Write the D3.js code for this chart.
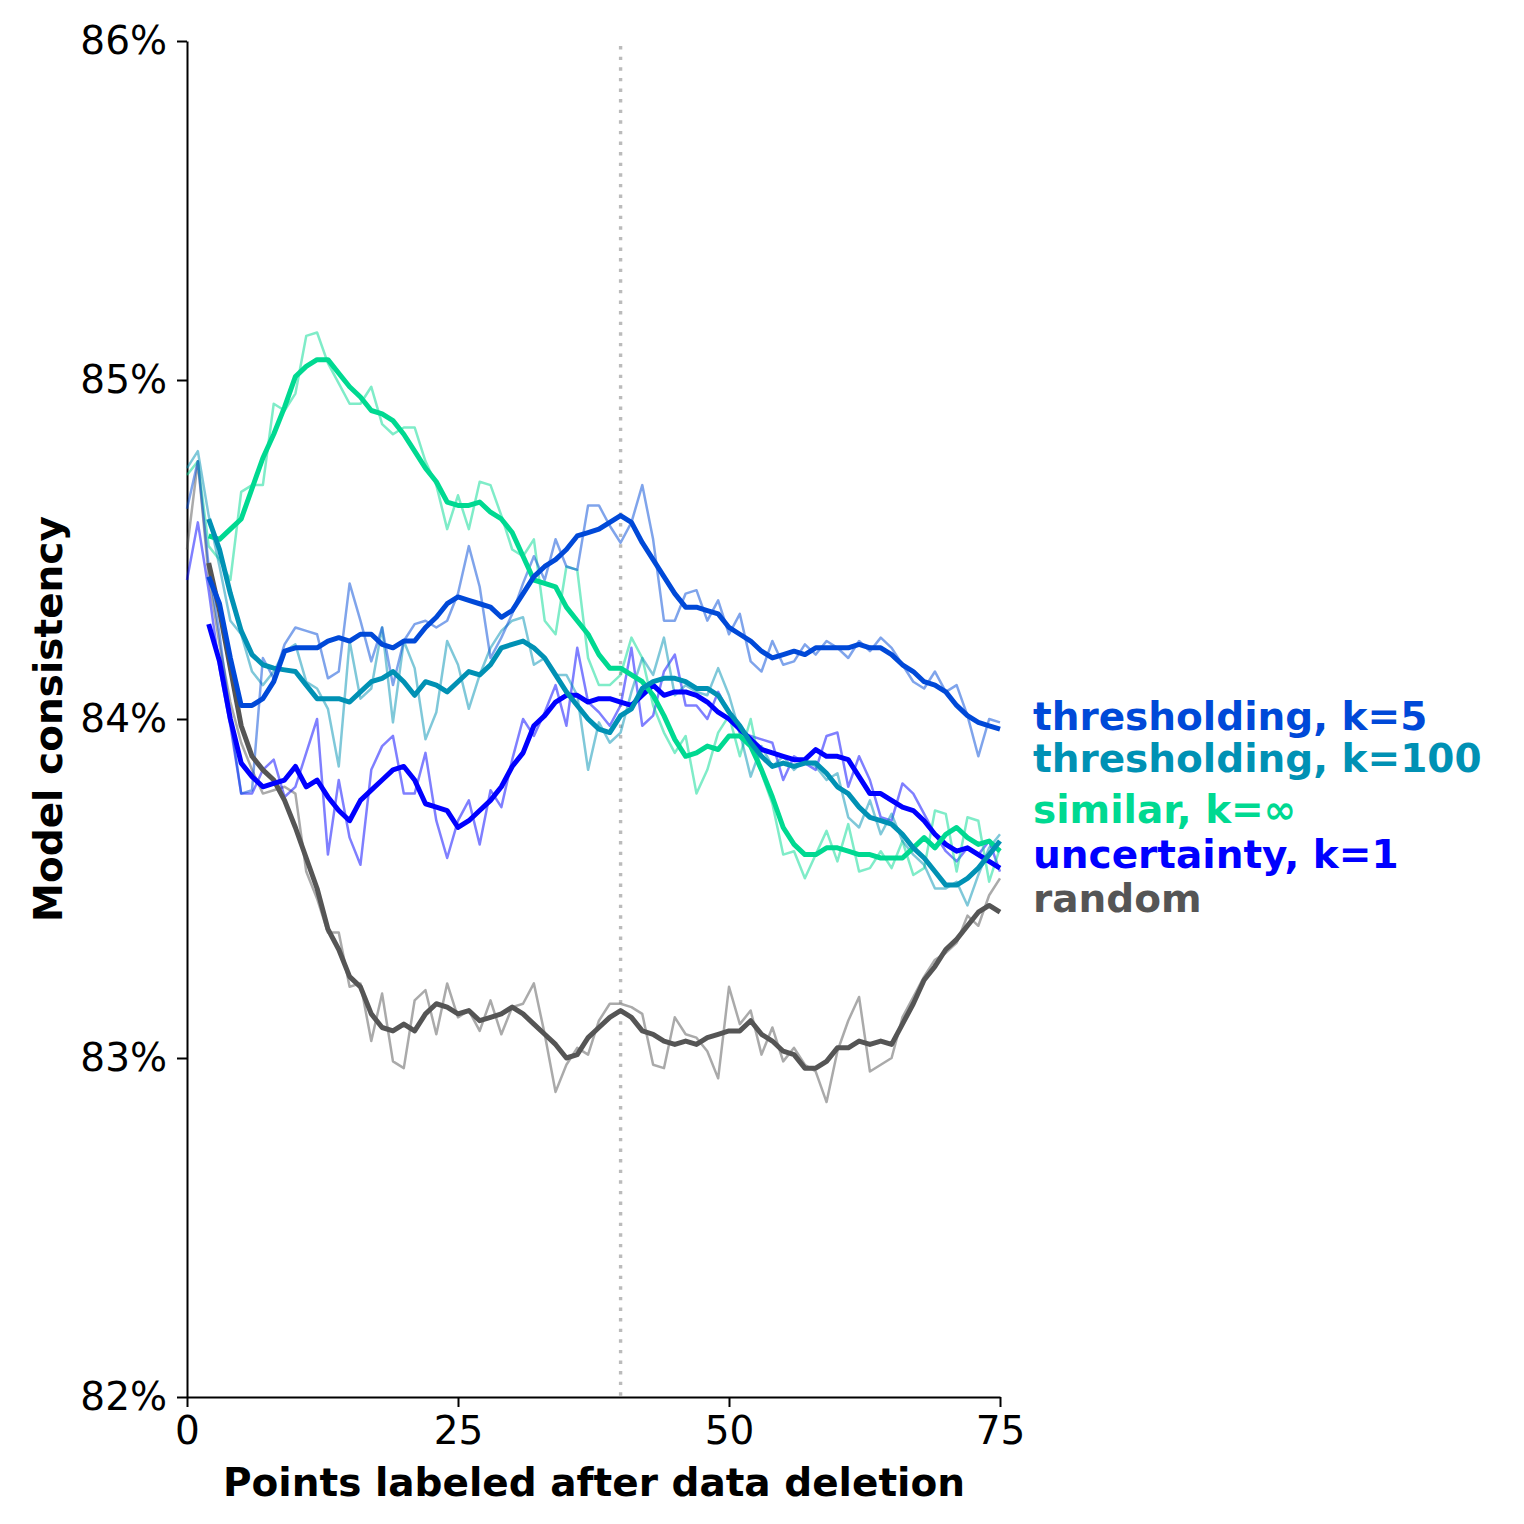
<!DOCTYPE html>
<html>
<head>
<meta charset="utf-8">
<script src="https://cdn.jsdelivr.net/npm/d3@7"></script>
<style>
  body { margin: 0; background: #fff; }
  svg text { font-family: "DejaVu Sans", sans-serif; }
</style>
</head>
<body>
<svg id="chart" width="1524" height="1524"></svg>
<script>
// per-step consistency (%), raw values at steps 0..75
var randomRaw = [84.50, 84.76, 84.42, 84.22, 84.05, 83.93, 83.85, 83.78, 83.79, 83.80,
  83.78, 83.55, 83.47, 83.37, 83.37, 83.21, 83.22, 83.05, 83.19, 82.99,
  82.97, 83.17, 83.20, 83.07, 83.22, 83.12, 83.14, 83.08, 83.17, 83.07,
  83.15, 83.16, 83.22, 83.07, 82.90, 82.98, 83.03, 83.01, 83.11, 83.16,
  83.16, 83.15, 83.13, 82.98, 82.97, 83.12, 83.07, 83.06, 83.02, 82.94,
  83.21, 83.10, 83.14, 83.01, 83.09, 82.99, 83.03, 82.98, 82.96, 82.87,
  83.02, 83.11, 83.18, 82.96, 82.98, 83.00, 83.12, 83.18, 83.24, 83.29,
  83.31, 83.34, 83.42, 83.39, 83.48, 83.53];

var uncertaintyRaw = [84.41, 84.58, 84.38, 84.15, 83.98, 83.78, 83.78, 83.85, 83.88, 83.77,
  83.80, 83.90, 84.00, 83.60, 83.82, 83.65, 83.57, 83.85, 83.92, 83.95,
  83.78, 83.78, 83.90, 83.70, 83.59, 83.70, 83.76, 83.63, 83.79, 83.74,
  83.88, 84.00, 83.95, 84.02, 84.10, 83.98, 84.21, 84.05, 84.02, 83.98,
  84.04, 84.21, 83.98, 84.01, 84.14, 84.19, 84.04, 84.04, 84.00, 84.08,
  84.02, 83.96, 83.95, 83.94, 83.93, 83.82, 83.89, 83.87, 83.85, 83.95,
  83.96, 83.80, 83.89, 83.82, 83.71, 83.70, 83.81, 83.78, 83.72, 83.66,
  83.61, 83.58, 83.62, 83.60, 83.64, 83.55];

var similarRaw = [84.72, 84.76, 84.51, 84.47, 84.41, 84.67, 84.69, 84.69, 84.93, 84.91,
  84.96, 85.13, 85.14, 85.05, 84.99, 84.93, 84.93, 84.98, 84.87, 84.84,
  84.86, 84.86, 84.76, 84.69, 84.56, 84.66, 84.56, 84.70, 84.69, 84.60,
  84.50, 84.48, 84.53, 84.29, 84.25, 84.45, 84.44, 84.18, 84.10, 84.10,
  84.13, 84.24, 84.18, 84.04, 83.96, 83.90, 83.95, 83.78, 83.85, 83.96,
  84.01, 83.89, 84.00, 83.84, 83.75, 83.60, 83.61, 83.53, 83.60, 83.67,
  83.58, 83.69, 83.55, 83.56, 83.61, 83.56, 83.64, 83.54, 83.56, 83.73,
  83.72, 83.55, 83.71, 83.70, 83.52, 83.62];

var thresh100Raw = [84.74, 84.79, 84.60, 84.45, 84.29, 84.25, 84.14, 84.10, 84.14, 84.20,
  84.22, 84.11, 84.09, 84.03, 83.86, 84.23, 84.06, 84.09, 84.27, 83.99,
  84.23, 84.15, 83.94, 84.02, 84.23, 84.16, 84.03, 84.13, 84.21, 84.26,
  84.29, 84.30, 84.16, 84.18, 84.13, 84.13, 84.07, 83.85, 83.99, 83.93,
  83.96, 84.08, 84.18, 84.13, 84.24, 84.07, 84.10, 84.08, 84.07, 84.15,
  84.07, 83.96, 83.83, 83.92, 83.86, 83.89, 83.85, 83.88, 83.86, 83.82,
  83.84, 83.71, 83.68, 83.76, 83.66, 83.72, 83.64, 83.60, 83.57, 83.50,
  83.50, 83.52, 83.45, 83.54, 83.62, 83.66];

var thresh5Raw = [84.62, 84.76, 84.45, 84.25, 84.00, 83.78, 83.79, 84.18, 84.12, 84.22,
  84.27, 84.26, 84.25, 84.12, 84.14, 84.40, 84.29, 84.17, 84.27, 84.10,
  84.23, 84.28, 84.29, 84.27, 84.29, 84.37, 84.51, 84.39, 84.18, 84.24,
  84.31, 84.40, 84.48, 84.41, 84.53, 84.45, 84.44, 84.63, 84.63, 84.57,
  84.52, 84.58, 84.69, 84.53, 84.29, 84.29, 84.37, 84.38, 84.29, 84.35,
  84.25, 84.31, 84.17, 84.14, 84.23, 84.16, 84.17, 84.22, 84.19, 84.23,
  84.21, 84.18, 84.23, 84.20, 84.24, 84.21, 84.16, 84.11, 84.09, 84.14,
  84.08, 84.10, 84.01, 83.89, 84.00, 83.99];

// smoothed curves, steps 2..75
var randomSmooth = [84.46, 84.32, 84.15, 83.98, 83.89, 83.85, 83.82, 83.76, 83.68, 83.59,
  83.50, 83.38, 83.32, 83.24, 83.21, 83.13, 83.09, 83.08, 83.10, 83.08,
  83.13, 83.16, 83.15, 83.13, 83.14, 83.11, 83.12, 83.13, 83.15, 83.13,
  83.10, 83.07, 83.04, 83.00, 83.01, 83.06, 83.09, 83.12, 83.14, 83.12,
  83.08, 83.07, 83.05, 83.04, 83.05, 83.04, 83.06, 83.07, 83.08, 83.08,
  83.11, 83.07, 83.05, 83.02, 83.01, 82.97, 82.97, 82.99, 83.03, 83.03,
  83.05, 83.04, 83.05, 83.04, 83.10, 83.16, 83.23, 83.27, 83.32, 83.35,
  83.39, 83.43, 83.45, 83.43];

var uncertaintySmooth = [84.28, 84.17, 84.00, 83.87, 83.83, 83.80, 83.81, 83.82, 83.86, 83.80,
  83.82, 83.77, 83.73, 83.70, 83.76, 83.79, 83.82, 83.85, 83.86, 83.82,
  83.75, 83.74, 83.73, 83.68, 83.70, 83.73, 83.76, 83.80, 83.86, 83.90,
  83.98, 84.01, 84.05, 84.07, 84.07, 84.05, 84.06, 84.06, 84.05, 84.04,
  84.07, 84.10, 84.07, 84.08, 84.08, 84.07, 84.05, 84.02, 84.00, 83.97,
  83.94, 83.91, 83.90, 83.89, 83.88, 83.88, 83.91, 83.89, 83.89, 83.88,
  83.83, 83.78, 83.78, 83.76, 83.74, 83.73, 83.70, 83.66, 83.63, 83.61,
  83.62, 83.60, 83.58, 83.56];

var similarSmooth = [84.54, 84.53, 84.56, 84.59, 84.68, 84.77, 84.84, 84.92, 85.01, 85.04,
  85.06, 85.06, 85.02, 84.98, 84.95, 84.91, 84.90, 84.88, 84.84, 84.79,
  84.74, 84.70, 84.64, 84.63, 84.63, 84.64, 84.61, 84.59, 84.55, 84.48,
  84.41, 84.40, 84.39, 84.33, 84.29, 84.25, 84.19, 84.15, 84.15, 84.13,
  84.11, 84.07, 84.01, 83.94, 83.89, 83.90, 83.92, 83.91, 83.95, 83.95,
  83.92, 83.85, 83.77, 83.68, 83.63, 83.60, 83.60, 83.62, 83.62, 83.61,
  83.60, 83.60, 83.59, 83.59, 83.59, 83.62, 83.65, 83.62, 83.66, 83.68,
  83.65, 83.63, 83.64, 83.61];

var thresh100Smooth = [84.59, 84.50, 84.37, 84.26, 84.19, 84.16, 84.15, 84.145, 84.14, 84.10,
  84.06, 84.06, 84.06, 84.05, 84.08, 84.11, 84.12, 84.14, 84.11, 84.07,
  84.11, 84.10, 84.08, 84.11, 84.14, 84.13, 84.16, 84.21, 84.22, 84.23,
  84.21, 84.18, 84.13, 84.08, 84.04, 84.00, 83.97, 83.96, 84.01, 84.03,
  84.09, 84.11, 84.12, 84.12, 84.11, 84.09, 84.09, 84.07, 84.02, 83.98,
  83.93, 83.89, 83.86, 83.87, 83.86, 83.87, 83.87, 83.84, 83.80, 83.78,
  83.74, 83.71, 83.70, 83.69, 83.66, 83.62, 83.59, 83.55, 83.51, 83.51,
  83.53, 83.56, 83.60, 83.64];

var thresh5Smooth = [84.42, 84.34, 84.18, 84.04, 84.04, 84.06, 84.11, 84.20, 84.21, 84.21,
  84.21, 84.23, 84.24, 84.23, 84.25, 84.25, 84.22, 84.21, 84.23, 84.23,
  84.27, 84.30, 84.34, 84.36, 84.35, 84.34, 84.33, 84.30, 84.32, 84.37,
  84.42, 84.45, 84.47, 84.50, 84.54, 84.55, 84.56, 84.58, 84.60, 84.58,
  84.52, 84.47, 84.42, 84.37, 84.33, 84.33, 84.32, 84.31, 84.27, 84.25,
  84.23, 84.20, 84.18, 84.19, 84.20, 84.19, 84.21, 84.21, 84.21, 84.21,
  84.22, 84.21, 84.21, 84.19, 84.16, 84.14, 84.11, 84.10, 84.08, 84.04,
  84.01, 83.99, 83.98, 83.97];

var labels = ["random", "uncertainty, k=1", "similar, k=\u221e", "thresholding, k=100", "thresholding, k=5"];
var colors = ["#555555", "#0000ff", "#00d991", "#0091b4", "#0049d8"];
var yTicks = [82, 83, 84, 85, 86];
var xTicks = [0, 25, 50, 75];
var deletionStep = 40;

var rawSeries = [randomRaw, uncertaintyRaw, similarRaw, thresh100Raw, thresh5Raw];
var smoothSeries = [randomSmooth, uncertaintySmooth, similarSmooth, thresh100Smooth, thresh5Smooth];

var App = {};

App.main = function() {
  App.svg = d3.select('#chart');
  App.x = d3.scaleLinear().domain([0, 75]).range([187, 1000]);
  App.y = d3.scaleLinear().domain([82, 86]).range([1397, 41]);

  App.drawAxes();
  App.drawLines();
  App.drawLabels();
}

App.drawAxes = function() {
  var svg = App.svg;

  var yAxis = svg.append('g')
    .attr('transform', 'translate(187,0)')
    .call(d3.axisLeft(App.y).tickValues(yTicks)
      .tickFormat(function(d) { return d + '%'; })
      .tickSize(10).tickSizeOuter(0).tickPadding(10));

  var xAxis = svg.append('g')
    .attr('transform', 'translate(0,1397)')
    .call(d3.axisBottom(App.x).tickValues(xTicks)
      .tickSize(10).tickSizeOuter(0).tickPadding(9));

  [xAxis, yAxis].forEach(function(ax) {
    ax.select('.domain').attr('stroke', '#000').attr('stroke-width', 2);
    ax.selectAll('.tick line').attr('stroke', '#000').attr('stroke-width', 2);
    ax.selectAll('.tick text')
      .attr('fill', '#000')
      .style('font-family', '"DejaVu Sans", sans-serif')
      .style('font-size', '39px');
  });

  svg.append('text')
    .attr('x', 594)
    .attr('y', 1496)
    .attr('text-anchor', 'middle')
    .style('font-size', '39px')
    .style('font-weight', 'bold')
    .text('Points labeled after data deletion');

  svg.append('text')
    .attr('transform', 'translate(62,719) rotate(-90)')
    .attr('text-anchor', 'middle')
    .style('font-size', '39px')
    .style('font-weight', 'bold')
    .text('Model consistency');

  // marker for the deletion step
  svg.append('line')
    .attr('x1', App.x(deletionStep)).attr('x2', App.x(deletionStep))
    .attr('y1', App.y(85.985)).attr('y2', App.y(82))
    .attr('stroke', '#bbbbbb')
    .attr('stroke-width', 3.4)
    .attr('stroke-dasharray', '3.4,7.2');
}

App.drawLines = function() {
  var rawLine = d3.line()
    .x(function(d, i) { return App.x(i); })
    .y(function(d) { return App.y(d); });

  var smoothLine = d3.line()
    .x(function(d, i) { return App.x(i + 2); })
    .y(function(d) { return App.y(d); });

  App.svg.append('g').selectAll('path')
    .data(rawSeries)
    .enter().append('path')
    .attr('d', rawLine)
    .attr('fill', 'none')
    .attr('stroke', function(d, i) { return colors[i]; })
    .attr('stroke-opacity', 0.5)
    .attr('stroke-width', 2.5)
    .attr('stroke-linejoin', 'round');

  App.svg.append('g').selectAll('path')
    .data(smoothSeries)
    .enter().append('path')
    .attr('d', smoothLine)
    .attr('fill', 'none')
    .attr('stroke', function(d, i) { return colors[i]; })
    .attr('stroke-width', 5)
    .attr('stroke-linejoin', 'round');
}

App.drawLabels = function() {
  // baselines of the end labels, top to bottom
  var order = [4, 3, 2, 1, 0];
  var baselines = [730, 772, 823, 868, 912];

  App.svg.append('g').selectAll('text')
    .data(order)
    .enter().append('text')
    .attr('x', 1033)
    .attr('y', function(d, i) { return baselines[i]; })
    .attr('fill', function(d) { return colors[d]; })
    .style('font-size', '39px')
    .style('font-weight', 'bold')
    .text(function(d) { return labels[d]; });
}

App.main();
</script>
</body>
</html>
